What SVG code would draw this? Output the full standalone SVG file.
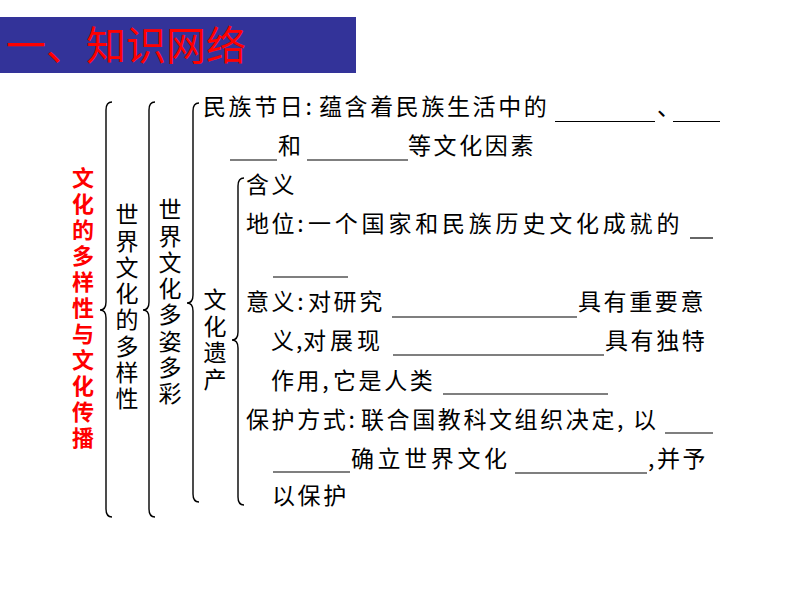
<svg xmlns="http://www.w3.org/2000/svg" width="800" height="600" viewBox="0 0 800 600">
<style>
.t{font-family:"Noto Sans CJK SC","Noto Sans",sans-serif;font-size:23px;fill:#000;letter-spacing:2.6px}
.v{font-family:"Noto Sans CJK SC","Noto Sans",sans-serif;font-size:23px;fill:#000;writing-mode:vertical-rl;text-orientation:upright;letter-spacing:3.3px}
.r{font-family:"Noto Sans CJK SC","Noto Sans",sans-serif;font-size:22px;font-weight:bold;fill:#ff0000;writing-mode:vertical-rl;text-orientation:upright;letter-spacing:4px}
.br{fill:none;stroke:#000;stroke-width:1.4}
.u{stroke:#000;stroke-width:1.2}
</style>
<rect width="800" height="600" fill="#fff"/>
<g id="title">
<rect x="0" y="17" width="356" height="56" fill="#333399"/>
<text x="6" y="60" font-family="'Noto Sans CJK SC','Noto Sans',sans-serif" font-size="40" fill="#ff0000">一、知识网络</text>
</g>
<g id="connectors">
<path class="br" d="M112 102 Q106 102 106 110 L106 302 Q106 310 100 310 Q106 310 106 318 L106 509 Q106 517 112 517"/>
<path class="br" d="M155 102 Q149 102 149 110 L149 302 Q149 310 143 310 Q149 310 149 318 L149 509 Q149 517 155 517"/>
<path class="br" d="M199 103 Q193 103 193 111 L193 295 Q193 303 187 303 Q193 303 193 311 L193 494 Q193 502 199 502"/>
<path class="br" d="M244 178 Q238 178 238 186 L238 332 Q238 340 232 340 Q238 340 238 348 L238 497 Q238 505 244 505"/>
</g>
<g id="root">
<text class="r" x="83" y="167">文化的多样性与文化传播</text>
</g>
<g id="diversity">
<text class="v" x="127" y="203">世界文化的多样性</text>
</g>
<g id="colorful">
<text class="v" x="170" y="198">世界文化多姿多彩</text>
</g>
<g id="heritage">
<text class="v" x="215" y="288" style="letter-spacing:3.5px">文化遗产</text>
</g>
<g id="festival">
<text class="t" y="115"><tspan x="203">民族节日:</tspan><tspan x="319">蕴含着民族生活中的</tspan><tspan x="657">、</tspan></text>
<line class="u" x1="555" y1="121.5" x2="655" y2="121.5"/>
<line class="u" x1="673" y1="121.5" x2="720" y2="121.5"/>
<line class="u" x1="230" y1="160" x2="277" y2="160"/>
<text class="t" y="154"><tspan x="278">和</tspan><tspan x="408">等文化因素</tspan></text>
<line class="u" x1="307" y1="160" x2="408" y2="160"/>
</g>
<g id="meaning">
<text class="t" x="246" y="193">含义</text>
</g>
<g id="status">
<text class="t" y="232"><tspan x="246">地位:</tspan><tspan x="308" style="letter-spacing:3.8px">一个国家和民族历史文化成就的</tspan></text>
<line class="u" x1="690" y1="238" x2="713" y2="238"/>
<line class="u" x1="273" y1="277" x2="348" y2="277"/>
</g>
<g id="significance">
<text class="t" y="310"><tspan x="246">意义:</tspan><tspan x="308">对研究</tspan><tspan x="578">具有重要意</tspan></text>
<line class="u" x1="392" y1="317" x2="577" y2="317"/>
<text class="t" y="349"><tspan x="271" style="letter-spacing:0">义</tspan><tspan x="296" style="letter-spacing:0">,</tspan><tspan x="303" style="letter-spacing:4px">对展现</tspan><tspan x="605">具有独特</tspan></text>
<line class="u" x1="393" y1="355" x2="604" y2="355"/>
<text class="t" y="389"><tspan x="271">作用,</tspan><tspan x="333">它是人类</tspan></text>
<line class="u" x1="443" y1="394" x2="608" y2="394"/>
</g>
<g id="protection">
<text class="t" y="428"><tspan x="246">保护方式:</tspan><tspan x="361">联合国教科文组织决定,</tspan><tspan x="633">以</tspan></text>
<line class="u" x1="665" y1="433" x2="713" y2="433"/>
<line class="u" x1="273" y1="472" x2="350" y2="472"/>
<text class="t" y="467"><tspan x="351" style="letter-spacing:3.6px">确立世界文化</tspan><tspan x="648" style="letter-spacing:0">,</tspan><tspan x="657">并予</tspan></text>
<line class="u" x1="515" y1="473" x2="647" y2="473"/>
<text class="t" x="272" y="504">以保护</text>
</g>
</svg>
